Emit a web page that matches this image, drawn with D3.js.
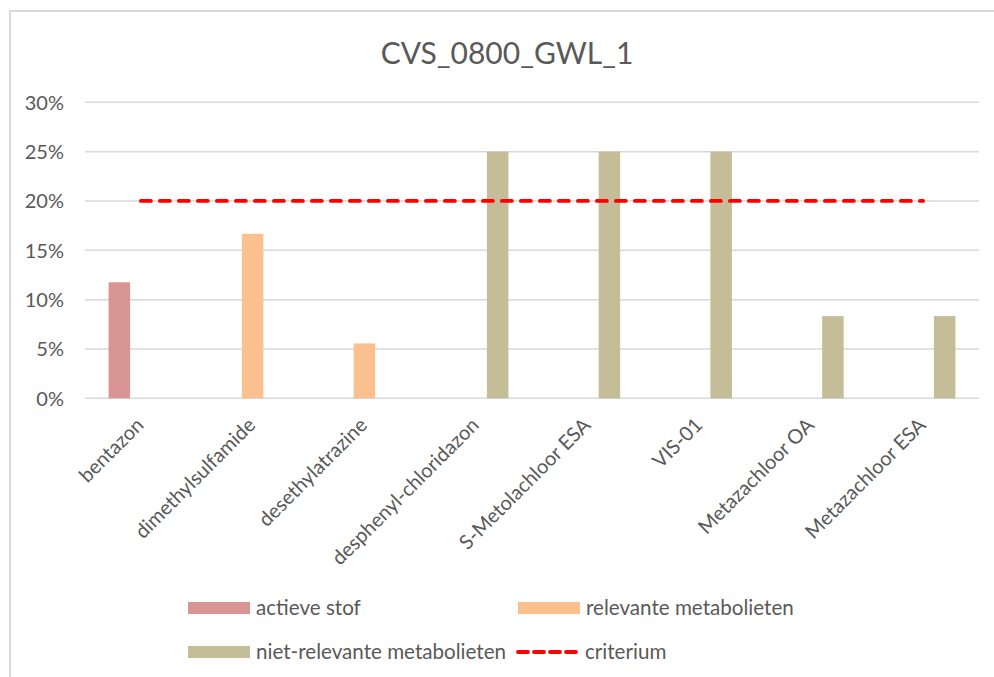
<!DOCTYPE html>
<html>
<head>
<meta charset="utf-8">
<script src="https://cdn.jsdelivr.net/npm/d3@7"></script>
<style>
  html, body { margin: 0; padding: 0; background: #fff; }
  svg { display: block; }
  text { font-family: Lato, "Open Sans", sans-serif; fill: #595959; }
</style>
</head>
<body>
<svg id="chart" width="994" height="677"></svg>
<script>
// Chart data
const categories = ["bentazon", "dimethylsulfamide", "desethylatrazine", "desphenyl-chloridazon",
  "S-Metolachloor ESA", "VIS-01", "Metazachloor OA", "Metazachloor ESA"];
const seriesNames = ["actieve stof", "relevante metabolieten", "niet-relevante metabolieten"];
const actieveStof = [0.1176, 0, 0, 0, 0, 0, 0, 0];
const relevanteMetabolieten = [0, 0.1667, 0.0556, 0, 0, 0, 0, 0];
const nietRelevanteMetabolieten = [0, 0, 0, 0.25, 0.25, 0.25, 0.0833, 0.0833];
const criterium = [0.2, 0.2, 0.2, 0.2, 0.2, 0.2, 0.2, 0.2];
const yTicks = [0, 0.05, 0.10, 0.15, 0.20, 0.25, 0.30];
const seriesColors = ["#D99594", "#FAC090", "#C4BD97"];
const title = "CVS_0800_GWL_1";

const svg = d3.select("#chart");

// Outer chart frame
svg.append("path")
  .attr("d", "M10,677 V11 H994")
  .attr("fill", "none")
  .attr("stroke", "#d9d9d9")
  .attr("stroke-width", 2);

const plot = { left: 85, right: 979, top: 102.3, bottom: 398.3 };

const x0 = d3.scaleBand().domain(categories).range([plot.left, plot.right]).paddingInner(0).paddingOuter(0);
// Clustered columns: gap width ~219% of a bar
const barW = x0.bandwidth() / (3 + 2.19);
const x1 = d3.scaleBand().domain(seriesNames)
  .range([x0.bandwidth() / 2 - 1.5 * barW, x0.bandwidth() / 2 + 1.5 * barW]).padding(0);
const y = d3.scaleLinear().domain([0, 0.30]).range([plot.bottom, plot.top]);

// Gridlines
svg.append("g").selectAll("line").data(yTicks).join("line")
  .attr("x1", plot.left).attr("x2", plot.right)
  .attr("y1", d => y(d)).attr("y2", d => y(d))
  .attr("stroke", "#d9d9d9").attr("stroke-width", 1.5);

// Y axis labels
const yAxis = d3.axisLeft(y).tickValues(yTicks).tickFormat(d3.format(".0%")).tickSize(0).tickPadding(0);
const yG = svg.append("g").attr("transform", `translate(64,0)`).call(yAxis);
yG.select(".domain").remove();
yG.selectAll("text").attr("font-size", 20).attr("fill", "#595959")
  .style("font-family", "Lato, 'Open Sans', sans-serif").attr("dy", "0.35em");

// Bars
const seriesData = [actieveStof, relevanteMetabolieten, nietRelevanteMetabolieten];
seriesData.forEach((vals, si) => {
  svg.append("g").selectAll("rect")
    .data(vals.map((v, i) => ({ cat: categories[i], v })).filter(d => d.v > 0))
    .join("rect")
    .attr("x", d => x0(d.cat) + x1(seriesNames[si]))
    .attr("width", x1.bandwidth())
    .attr("y", d => y(d.v))
    .attr("height", d => y(0) - y(d.v))
    .attr("fill", seriesColors[si]);
});

// Criterium line
const line = d3.line()
  .x((d, i) => x0(categories[i]) + x0.bandwidth() / 2)
  .y(d => y(d));
svg.append("path")
  .datum(criterium)
  .attr("d", line)
  .attr("fill", "none")
  .attr("stroke", "#FF0000")
  .attr("stroke-width", 3.8)
  .attr("stroke-dasharray", "10 9")
  .attr("stroke-linecap", "round");

// Category labels, rotated
svg.append("g").selectAll("text").data(categories).join("text")
  .attr("transform", d => `translate(${x0(d) + x0.bandwidth() / 2 + 4},${plot.bottom + 28}) rotate(-45)`)
  .attr("text-anchor", "end")
  .attr("font-size", 20)
  .text(d => d);

// Title
svg.append("text")
  .attr("x", 507).attr("y", 64)
  .attr("text-anchor", "middle")
  .attr("font-size", 30)
  .text(title);

// Legend
const legendItems = [
  { name: seriesNames[0], type: "bar", color: seriesColors[0], x: 188, y: 608 },
  { name: seriesNames[1], type: "bar", color: seriesColors[1], x: 518, y: 608 },
  { name: seriesNames[2], type: "bar", color: seriesColors[2], x: 188, y: 652 },
  { name: "criterium", type: "line", color: "#FF0000", x: 516, y: 652 }
];
const lg = svg.append("g").selectAll("g").data(legendItems).join("g")
  .attr("transform", d => `translate(${d.x},${d.y})`);
lg.filter(d => d.type === "bar").append("rect")
  .attr("x", 0).attr("y", -6).attr("width", 62).attr("height", 12)
  .attr("fill", d => d.color);
lg.filter(d => d.type === "line").append("line")
  .attr("x1", 2).attr("x2", 62).attr("y1", 0).attr("y2", 0)
  .attr("stroke", d => d.color).attr("stroke-width", 3.8)
  .attr("stroke-dasharray", "10 6").attr("stroke-linecap", "round");
lg.append("text")
  .attr("x", d => d.type === "line" ? 69 : 68).attr("y", 0).attr("dy", "0.35em")
  .attr("font-size", 20.6)
  .text(d => d.name);
</script>
</body>
</html>
